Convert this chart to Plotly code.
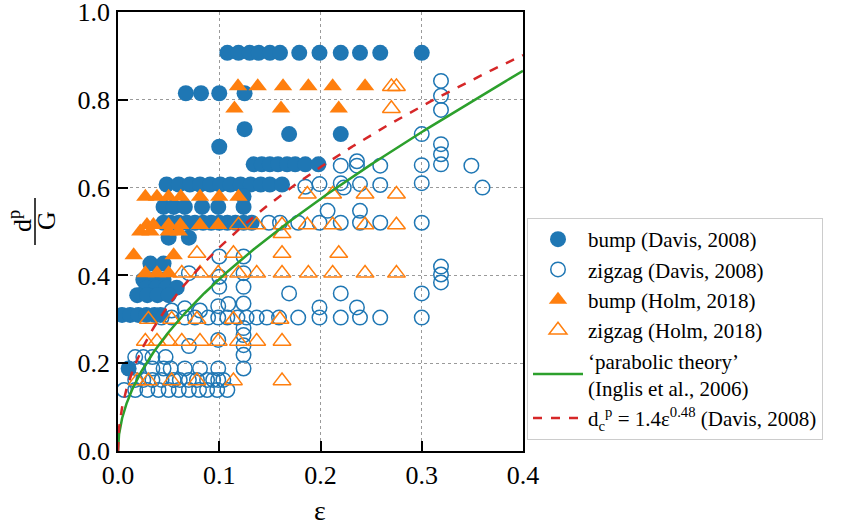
import numpy as np
import plotly.graph_objects as go

# ---------------- data ----------------
# bump (Davis, 2008) -- filled circles
bump_davis_x = [0.108, 0.119, 0.130, 0.139, 0.150, 0.160, 0.179, 0.199, 0.220, 0.239, 0.259, 0.300,
                0.067, 0.082, 0.100, 0.125,
                0.125, 0.169, 0.220, 0.100,
                0.134, 0.142, 0.150, 0.158, 0.167, 0.175, 0.185, 0.198,
                0.048, 0.060, 0.071, 0.081, 0.091, 0.101, 0.111, 0.121, 0.131, 0.141, 0.150, 0.162,
                0.124,
                0.045, 0.055, 0.066, 0.083, 0.099, 0.124,
                0.045, 0.052, 0.060, 0.068, 0.076, 0.084, 0.092, 0.100, 0.108, 0.116, 0.124, 0.132,
                0.050, 0.070,
                0.032, 0.045,
                0.025, 0.035, 0.045,
                0.028, 0.038, 0.048, 0.058,
                0.019, 0.029, 0.039, 0.050,
                0.004, 0.012, 0.020, 0.028, 0.036, 0.042,
                0.0105]
bump_davis_y = [0.907] * 12 + [0.815] * 4 + [0.733, 0.722, 0.722, 0.693] + [0.653] * 8 + \
               [0.607] * 12 + [0.580] + [0.556] * 6 + [0.520] * 12 + [0.486] * 2 + [0.427] * 2 + \
               [0.390] * 3 + [0.372] * 4 + [0.355] * 4 + [0.310] * 6 + [0.188]

# zigzag (Davis, 2008) -- open circles
zz_davis_x = [0.319, 0.319, 0.319, 0.300, 0.319, 0.319, 0.319, 0.349, 0.300, 0.259, 0.236, 0.236, 0.220,
              0.360, 0.300, 0.259, 0.239, 0.220, 0.223, 0.199, 0.185, 0.207, 0.239,
              0.149, 0.160, 0.178, 0.199, 0.220, 0.239, 0.259, 0.300,
              0.319, 0.319, 0.319, 0.220, 0.300, 0.169, 0.199, 0.236,
              0.043, 0.053, 0.066, 0.076, 0.089, 0.099, 0.108, 0.118, 0.127, 0.137, 0.147, 0.159, 0.178,
              0.199, 0.220, 0.239, 0.259, 0.300,
              0.124, 0.124, 0.124, 0.124, 0.124, 0.124, 0.124, 0.124, 0.124,
              0.100, 0.070, 0.100, 0.100,
              0.053, 0.066, 0.081, 0.099, 0.109,
              0.070, 0.099,
              0.017, 0.025, 0.034, 0.047,
              0.019, 0.034, 0.045, 0.052, 0.066, 0.081, 0.099,
              0.017, 0.025, 0.034, 0.043, 0.055, 0.061, 0.070, 0.078, 0.088, 0.094, 0.099, 0.104,
              0.006, 0.017, 0.029, 0.040, 0.050, 0.060, 0.070, 0.080, 0.088, 0.098, 0.108]
zz_davis_y = [0.843, 0.809, 0.777, 0.722, 0.699, 0.676, 0.653, 0.650, 0.651, 0.650, 0.660, 0.650, 0.650,
              0.600, 0.610, 0.606, 0.608, 0.610, 0.600, 0.608, 0.602, 0.547, 0.547] + \
             [0.520] * 8 + \
             [0.420, 0.402, 0.384, 0.359, 0.359, 0.359, 0.327, 0.327] + \
             [0.304] * 18 + \
             [0.443, 0.405, 0.374, 0.336, 0.280, 0.264, 0.241, 0.219, 0.188] + \
             [0.443, 0.405, 0.397, 0.374] + \
             [0.320, 0.325, 0.320, 0.330, 0.335] + \
             [0.239, 0.253] + \
             [0.214] * 4 + [0.188] * 7 + [0.162] * 12 + [0.139] * 11

# bump (Holm, 2018) -- filled triangles
bump_holm_x = [0.1185, 0.138, 0.163, 0.188, 0.212, 0.244,
               0.115, 0.161, 0.218,
               0.027, 0.0385, 0.050, 0.062, 0.081, 0.100, 0.119,
               0.0286, 0.035, 0.050, 0.0615, 0.081, 0.099,
               0.022, 0.032, 0.050, 0.060,
               0.0155, 0.055,
               0.027, 0.0385, 0.050]
bump_holm_y = [0.831] * 6 + [0.780] * 3 + [0.579] * 7 + [0.515] * 6 + [0.500] * 4 + \
              [0.446] * 2 + [0.405] * 3

# zigzag (Holm, 2018) -- open triangles
zz_holm_x = [0.270, 0.275, 0.270,
             0.187, 0.212, 0.244, 0.275,
             0.119, 0.137, 0.162, 0.187, 0.212, 0.244, 0.275,
             0.162,
             0.078, 0.114, 0.162, 0.218,
             0.063, 0.081, 0.099, 0.119, 0.137, 0.162, 0.188, 0.212, 0.244, 0.275,
             0.030, 0.053, 0.078, 0.114, 0.160,
             0.027, 0.0385, 0.050, 0.063, 0.081, 0.099, 0.119, 0.137, 0.162,
             0.019, 0.030, 0.053, 0.078, 0.114, 0.162]
zz_holm_y = [0.830, 0.830, 0.780] + [0.585] * 4 + [0.515] * 7 + [0.495] + [0.450] * 4 + \
            [0.405] * 10 + [0.300] * 5 + [0.250] * 9 + [0.160] * 6

x_ticks = [0.0, 0.1, 0.2, 0.3, 0.4]
y_ticks = [0.0, 0.2, 0.4, 0.6, 0.8, 1.0]

# model curves
eps = np.concatenate([np.linspace(0, 0.01, 101)[:-1], np.linspace(0.01, 0.4, 400)])
davis_curve = 1.4 * eps ** 0.48
theta = np.arctan2(np.sqrt(eps * (1 - eps)) / 4.0, 1.0 / 8.0 - eps / 4.0)
inglis_curve = 1 + 2 * np.cos(2 * np.pi / 3 - theta / 3)

BLUE = "#1f77b4"
ORANGE = "#ff7f0e"
GREEN = "#2ca02c"
RED = "#d62728"
FONT = "Liberation Serif"

fig = go.Figure()
fig.add_trace(go.Scatter(x=bump_davis_x, y=bump_davis_y, mode="markers", name="bump (Davis, 2008)",
                         marker=dict(symbol="circle", size=16, color=BLUE, line=dict(width=0))))
fig.add_trace(go.Scatter(x=zz_davis_x, y=zz_davis_y, mode="markers", name="zigzag (Davis, 2008)",
                         marker=dict(symbol="circle-open", size=14.5, color=BLUE, line=dict(width=1.5, color=BLUE))))
fig.add_trace(go.Scatter(x=bump_holm_x, y=bump_holm_y, mode="markers", name="bump (Holm, 2018)",
                         marker=dict(symbol="triangle-up", size=16, color=ORANGE, line=dict(width=0))))
fig.add_trace(go.Scatter(x=zz_holm_x, y=zz_holm_y, mode="markers", name="zigzag (Holm, 2018)",
                         marker=dict(symbol="triangle-up-open", size=15.5, color=ORANGE, line=dict(width=1.5, color=ORANGE))))
fig.add_trace(go.Scatter(x=eps, y=inglis_curve, mode="lines",
                         name="‘parabolic theory’<br>(Inglis et al., 2006)",
                         line=dict(color=GREEN, width=2.5)))
fig.add_trace(go.Scatter(x=eps, y=davis_curve, mode="lines",
                         name="d<sub>c</sub><sup>p</sup> = 1.4ε<sup>0.48</sup> (Davis, 2008)",
                         line=dict(color=RED, width=2.5, dash="dash")))

# plot area in page pixels: x 118..523, y 12..451 (page body margin removed below)
W, H = 842, 526
L, T = 118, 12
R = W - 523
B = H - 451
pw, ph = W - L - R, H - T - B


def px_to_paper(px, py):
    return (px - L) / pw, (H - B - py) / ph


axis_common = dict(showline=True, mirror=True, linecolor="black", linewidth=1.5,
                   ticks="inside", ticklen=10, tickwidth=1.5, tickcolor="black",
                   showgrid=True, gridcolor="#9a9a9a", gridwidth=1, griddash="dot",
                   zeroline=False, tickfont=dict(family=FONT, size=26, color="black"),
                   ticklabeloverflow="allow")

fig.update_layout(
    width=W, height=H,
    margin=dict(l=L, r=R, t=T, b=B, autoexpand=False),
    paper_bgcolor="white", plot_bgcolor="white",
    xaxis=dict(range=[0, 0.4], tickvals=x_ticks, tickformat=".1f", ticklabelstandoff=0, **axis_common),
    yaxis=dict(range=[0, 1.0], tickvals=y_ticks, tickformat=".1f", ticklabelstandoff=1, **axis_common),
    legend=dict(x=px_to_paper(527, 0)[0], y=px_to_paper(0, 218)[1], xanchor="left", yanchor="top",
                bgcolor="white", bordercolor="#cccccc", borderwidth=1, itemwidth=50,
                font=dict(family=FONT, size=21, color="black"), tracegroupgap=0),
    font=dict(family=FONT, color="black"),
)

# y-axis label as a stacked fraction d^p / G (rotated)
nx, ny = px_to_paper(20, 221)
dx, dy = px_to_paper(46, 221)
bx, by0 = px_to_paper(35, 245)
_, by1 = px_to_paper(35, 198)
fig.add_annotation(x=nx, y=ny, xref="paper", yref="paper", text="d<sup>p</sup>", textangle=-90,
                   showarrow=False, font=dict(family=FONT, size=26, color="black"),
                   xanchor="center", yanchor="middle")
fig.add_annotation(x=dx, y=dy, xref="paper", yref="paper", text="G", textangle=-90,
                   showarrow=False, font=dict(family=FONT, size=26, color="black"),
                   xanchor="center", yanchor="middle")
fig.add_shape(type="line", xref="paper", yref="paper", x0=bx, x1=bx, y0=by0, y1=by1,
              line=dict(color="black", width=1.5))

ex, ey = px_to_paper(320, 510)
fig.add_annotation(x=ex, y=ey, xref="paper", yref="paper", text="ε", showarrow=False,
                   font=dict(family=FONT, size=28, color="black"), xanchor="center", yanchor="middle")

fig.write_html("out.html", config={"displayModeBar": False},
               post_script="document.body.style.margin='0px';document.body.style.overflow='hidden';")
